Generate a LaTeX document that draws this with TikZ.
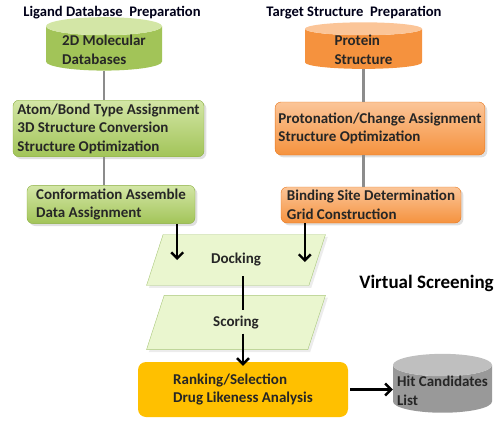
\documentclass[tikz,border=0pt]{standalone}
\usepackage{fontspec}
\setmainfont{Carlito}
\usetikzlibrary{shapes.geometric,arrows.meta,shadows}
\definecolor{ligtop}{HTML}{D3E6A6}
\definecolor{ligbody}{HTML}{A2C458}
\definecolor{ligdark}{HTML}{8CB043}
\definecolor{tgttop}{HTML}{FBC598}
\definecolor{tgtbody}{HTML}{F5923E}
\definecolor{tgtdark}{HTML}{E8781E}
\definecolor{stagefill}{HTML}{EAF6CF}
\definecolor{stageline}{HTML}{A9C77A}
\definecolor{rankfill}{HTML}{FFC000}
\definecolor{linkgray}{HTML}{8C8C8C}

\tikzset{
  txt/.style={font=\bfseries\fontsize{15}{18.5}\selectfont, align=left, text=black!85},
  title/.style={font=\bfseries\fontsize{14.6}{16}\selectfont, text=black!90!blue},
  db/.style={txt, cylinder, shape border rotate=90, aspect=0.2, inner ysep=0pt,
    cylinder uses custom fill},
  ligdb/.style={db, cylinder body fill=ligbody, cylinder end fill=ligtop},
  tgtdb/.style={db, cylinder body fill=tgtbody, cylinder end fill=tgttop},
  hitdb/.style={db, aspect=0.23, cylinder body fill=black!40, cylinder end fill=black!25},
  ligbox/.style={txt, rectangle, rounded corners=6pt, draw=ligdark, top color=ligtop,
    bottom color=ligbody, drop shadow={opacity=0.25}},
  tgtbox/.style={txt, rectangle, rounded corners=6pt, draw=tgtdark, top color=tgttop,
    bottom color=tgtbody, drop shadow={opacity=0.25}},
  stage/.style={txt, trapezium, trapezium left angle=72, trapezium right angle=108,
    draw=stageline, fill=stagefill, drop shadow={opacity=0.15}},
  link/.style={draw=linkgray, line width=2.4pt},
  flow/.style={line width=2.4pt, -{Straight Barb[length=6pt,width=12pt]}}
}

\begin{document}
\begin{tikzpicture}[x=1pt, y=-1pt]
  \useasboundingbox (0,0) rectangle (499,426);
  \node[title] (ligtitle) at (112,13) {Ligand Database\ \ Preparation};
  \node[title] (tgttitle) at (354,13) {Target Structure\ \ Preparation};

  \node[ligdb, minimum width=116pt, minimum height=30pt] (mol) at (104,50) {2D Molecular\\Databases};
  \node[tgtdb, minimum width=117pt, minimum height=30pt] (prot) at (363.5,50) {Protein\\Structure};

  \node[ligbox, minimum width=191pt, minimum height=53pt] (ligprep) at (108.5,128.5)
    {Atom/Bond Type Assignment\\3D Structure Conversion\\Structure Optimization};
  \node[tgtbox, minimum width=206pt, minimum height=53pt] (tgtprep) at (380,128.5)
    {Protonation/Change Assignment\\Structure Optimization};

  \node[ligbox, minimum width=168pt, minimum height=37pt] (ligconf) at (111,204.5)
    {Conformation Assemble\\Data Assignment};
  \node[tgtbox, minimum width=180pt, minimum height=36pt] (tgtgrid) at (371,205)
    {Binding Site Determination\\Grid Construction};

  \node[stage, minimum width=179pt, minimum height=42pt] (dock) at (236,260) {Docking};
  \node[stage, minimum width=179pt, minimum height=39pt] (score) at (236,322.5) {Scoring};

  \node[txt, rectangle, rounded corners=8pt, fill=rankfill, minimum width=210pt, minimum height=55pt]
    (rank) at (243,389.5) {Ranking/Selection\\Drug Likeness Analysis};
  \node[hitdb, minimum width=99pt, minimum height=48pt] (hit) at (442.5,391) {Hit Candidates\\List};

  \node[font=\bfseries\fontsize{19}{21}\selectfont] (vs) at (426.5,283) {Virtual Screening};

  \draw[link] (mol.south) -- (mol.south |- ligprep.north);
  \draw[link] (ligprep.south -| mol.south) -- (mol.south |- ligconf.north);
  \draw[link] (prot.south) -- (prot.south |- tgtprep.north);
  \draw[link] (tgtprep.south -| prot.south) -- (prot.south |- tgtgrid.north);

  \draw[flow] ([xshift=-18pt]ligconf.south east) -- ([xshift=-18pt]ligconf.south east |- dock.center);
  \draw[flow] ([xshift=24pt]tgtgrid.south west) -- ([xshift=24pt,yshift=-2pt]tgtgrid.south west |- dock.center);
  \draw[line width=2.4pt] ([xshift=7pt,yshift=-16pt]dock.center) -- ([xshift=7pt,yshift=13pt]score.center);
  \draw[flow] ([xshift=7pt,yshift=-11pt]score.center) -- ([yshift=-4pt]rank.north);
  \draw[flow] (rank.east) ++(2,0) coordinate (rankout) -- (rankout -| hit.west);
\end{tikzpicture}
\end{document}
